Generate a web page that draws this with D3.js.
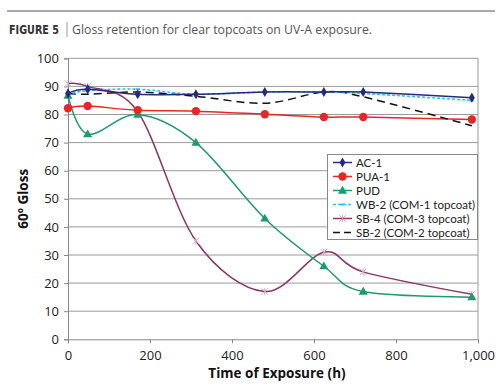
<!DOCTYPE html>
<html><head><meta charset="utf-8">
<script src="https://cdn.jsdelivr.net/npm/d3@7"></script>
<style>body{margin:0;background:#fff}svg{display:block}</style>
</head><body><svg id="c" width="500" height="391"></svg>
<script>
const hours = [0, 48, 170, 312, 480, 624, 720, 985];
const ac1 = [87.5, 89, 87.2, 87.2, 88, 88, 88, 86];
const pua1 = [82.2, 83, 81.5, 81.2, 80.1, 79.1, 79.1, 78.2];
const pud = [86.7, 73, 80, 70, 43, 26, 17, 15];
const wb2 = [87, 88.5, 89, 87.2, 88, 88, 87.5, 85];
const sb4 = [91, 90, 81, 35, 17, 31, 24, 16];
const sb2 = [87.5, 87.2, 88, 86.5, 84, 88, 86.3, 76];
const seriesNames = ["AC-1", "PUA-1", "PUD", "WB-2 (COM-1 topcoat)", "SB-4 (COM-3 topcoat)", "SB-2 (COM-2 topcoat)"];
const xTicks = [0, 200, 400, 600, 800, 1000];
const yTicks = [0, 10, 20, 30, 40, 50, 60, 70, 80, 90, 100];

const svg = d3.select("#c");
const font = "'Open Sans', sans-serif";
const x = d3.scaleLinear().domain([0, 1000]).range([68, 478]);
const y = d3.scaleLinear().domain([0, 100]).range([339.3, 58.3]);

// Title
svg.append("line").attr("x1", 7).attr("x2", 495).attr("y1", 11).attr("y2", 11).attr("stroke", "#555").attr("stroke-width", 1);
svg.append("text").attr("x", 9).attr("y", 34).attr("font-family", "'DejaVu Sans Condensed', 'Liberation Sans Narrow', sans-serif")
  .attr("font-weight", "bold").attr("font-size", 13).attr("fill", "#333").attr("textLength", 50).attr("lengthAdjust", "spacingAndGlyphs").text("FIGURE 5");
svg.append("line").attr("x1", 67).attr("x2", 67).attr("y1", 22).attr("y2", 37).attr("stroke", "#999").attr("stroke-width", 1);
svg.append("text").attr("x", 72).attr("y", 34).attr("font-family", font).attr("font-size", 13).attr("fill", "#555")
  .attr("textLength", 300).attr("lengthAdjust", "spacingAndGlyphs").text("Gloss retention for clear topcoats on UV-A exposure.");

// gridlines
svg.append("g").selectAll("line").data(yTicks.filter(d => d > 0)).join("line")
  .attr("x1", x(0)).attr("x2", x(1000)).attr("y1", d => y(d)).attr("y2", d => y(d))
  .attr("stroke", "#9a9a9a").attr("stroke-width", 1);
// right border
svg.append("line").attr("x1", x(1000)).attr("x2", x(1000)).attr("y1", y(100)).attr("y2", y(0)).attr("stroke", "#9a9a9a");

// axes
const gx = svg.append("g").attr("transform", `translate(0,${y(0)})`)
  .call(d3.axisBottom(x).tickValues(xTicks).tickSize(4).tickPadding(6));
const gy = svg.append("g").attr("transform", `translate(${x(0)},0)`)
  .call(d3.axisLeft(y).tickValues(yTicks).tickSize(4).tickPadding(5));
[gx, gy].forEach(g => {
  g.selectAll("path,line").attr("stroke", "#888");
  g.selectAll("text").attr("font-family", font).attr("font-size", 13).attr("fill", "#222");
});
gx.selectAll("text").attr("dy", "0.85em");

svg.append("text").attr("x", 277).attr("y", 378).attr("text-anchor", "middle").attr("font-family", font)
  .attr("font-weight", "bold").attr("font-size", 13.5).attr("fill", "#111").text("Time of Exposure (h)");
svg.append("text").attr("transform", `translate(28,${y(50)}) rotate(-90)`).attr("text-anchor", "middle").attr("font-family", font)
  .attr("font-weight", "bold").attr("font-size", 13.5).attr("fill", "#111").text("60º Gloss");

const line = d3.line().x(d => x(d[0])).y(d => y(d[1])).curve(d3.curveCardinal.tension(0));
const series = [
  {name: seriesNames[0], vals: ac1, color: "#262a78", dash: null, marker: "diamond", mcolor: "#262a78", w: 1.5},
  {name: seriesNames[1], vals: pua1, color: "#e8262a", dash: null, marker: "circle", mcolor: "#e8262a", w: 1.5},
  {name: seriesNames[2], vals: pud, color: "#1e9a6c", dash: null, marker: "triangle", mcolor: "#1e9a6c", w: 1.5},
  {name: seriesNames[3], vals: wb2, color: "#31c3ee", dash: "3,2", marker: "tick", mcolor: "#31c3ee", w: 1.6},
  {name: seriesNames[4], vals: sb4, color: "#8a3469", dash: null, marker: "star", mcolor: "#d2a8c4", w: 1.5},
  {name: seriesNames[5], vals: sb2, color: "#111", dash: "8,5", marker: null, mcolor: null, w: 1.5}
];
const drawOrder = [4, 2, 1, 5, 3, 0];

function marker(g, type, color, cx, cy) {
  if (type === "diamond") g.append("path").attr("d", d3.symbol(d3.symbolDiamond, 30)()).attr("transform", `translate(${cx},${cy})`).attr("fill", color);
  else if (type === "circle") g.append("circle").attr("cx", cx).attr("cy", cy).attr("r", 4.2).attr("fill", color);
  else if (type === "triangle") g.append("path").attr("d", d3.symbol(d3.symbolTriangle, 36)()).attr("transform", `translate(${cx},${cy+0.5})`).attr("fill", color);
  else if (type === "tick") g.append("line").attr("x1", cx - 2).attr("x2", cx + 2).attr("y1", cy).attr("y2", cy).attr("stroke", color).attr("stroke-width", 2);
  else if (type === "star") {
    g.append("path").attr("d", d3.symbol(d3.symbolTimes, 30)()).attr("transform", `translate(${cx},${cy})`).attr("fill", "none").attr("stroke", color).attr("stroke-width", 1);
    g.append("line").attr("x1", cx).attr("x2", cx).attr("y1", cy - 3.5).attr("y2", cy + 3.5).attr("stroke", color).attr("stroke-width", 1);
  }
}

drawOrder.forEach(i => {
  const s = series[i];
  const pts = hours.map((h, j) => [h, s.vals[j]]);
  svg.append("path").attr("d", line(pts)).attr("fill", "none").attr("stroke", s.color).attr("stroke-width", s.w)
    .attr("stroke-dasharray", s.dash);
  const g = svg.append("g");
  if (s.marker) pts.forEach(p => marker(g, s.marker, s.mcolor, x(p[0]), y(p[1])));
});

// legend
const lg = svg.append("g");
lg.append("rect").attr("x", 327.5).attr("y", 154.5).attr("width", 150).attr("height", 85).attr("fill", "#fff").attr("stroke", "#888");
series.forEach((s, i) => {
  const ly = 162.5 + i * 14;
  lg.append("line").attr("x1", 333).attr("x2", 352).attr("y1", ly).attr("y2", ly).attr("stroke", s.color).attr("stroke-width", s.w)
    .attr("stroke-dasharray", s.dash ? (i === 5 ? "7,4" : "3,2") : null);
  if (s.marker) marker(lg, s.marker, s.mcolor, 342.5, ly);
  lg.append("text").attr("x", 356).attr("y", ly + 4.2).attr("font-family", "Lato, sans-serif").attr("font-size", 11.5).attr("fill", "#222").text(s.name);
});
</script></body></html>
